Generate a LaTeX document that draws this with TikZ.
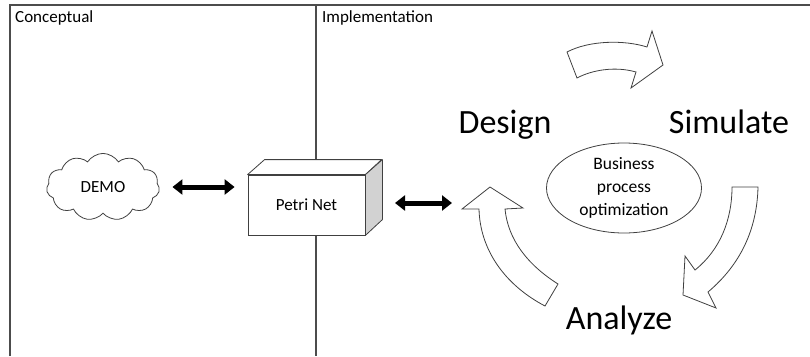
\documentclass[tikz,border=0pt]{standalone}
\usepackage{fontspec}
\setmainfont{Carlito}
\usetikzlibrary{shapes.geometric, shapes.symbols, arrows.meta, positioning}

\begin{document}
\begin{tikzpicture}[x=1pt, y=-1pt]
% Define styles
\tikzstyle{frame} = [draw=gray!60!black, line width=1.2pt]
\tikzstyle{label} = [anchor=base west, inner sep=0pt, font=\fontsize{17}{20}\selectfont]
\tikzstyle{phase} = [anchor=base, inner sep=0pt, font=\fontsize{34}{40}\selectfont]
\tikzstyle{box} = [rectangle, draw=black!75, fill=white, line width=0.8pt, minimum width=117pt, minimum height=60pt, font=\fontsize{17}{20}\selectfont]
\tikzstyle{boxface} = [draw=black!75, fill=white, line width=0.8pt, line join=round]
\tikzstyle{link} = [black, line width=5pt, {Triangle[length=10pt,width=15pt]}-{Triangle[length=10pt,width=15pt]}, shorten <=13pt, shorten >=13pt]
\tikzstyle{bentarrow} = [draw=black!75, fill=white, line width=0.8pt, line join=miter]
\useasboundingbox (0,0) rectangle (810,356);

% Frame with the two columns
\draw[frame] (10,356) -- (10,5) -- (810,5);
\draw[frame] (316,5) -- (316,356);
\node[label] (Conceptual) at (15,22) {Conceptual};
\node[label] (Implementation) at (322,22) {Implementation};

% Conceptual side
\node[cloud, draw=black!75, line width=0.8pt, cloud puffs=11, cloud puff arc=115, aspect=1.4, minimum width=113pt, minimum height=55pt, inner sep=6pt, font=\fontsize{17}{20}\selectfont] (Demo) at (103,187) {DEMO};

% Petri net box (front, top and side faces)
\node[box] (PetriNet) at (306.5,205) {Petri Net};
\draw[boxface] (PetriNet.north west) -- ++(17,-15) -- ++(117,0) -- (PetriNet.north east) -- cycle;
\draw[boxface, fill=gray!35] (PetriNet.north east) -- ++(17,-15) -- ++(0,60) -- (PetriNet.south east) -- cycle;
\coordinate (PetriSide) at (382,203);
\coordinate (LoopIn) at (465,203);

% Links
\draw[link] (Demo.east) -- (Demo.east -| PetriNet.west);
\draw[link] (PetriSide) -- (LoopIn);

% Optimization cycle
\node[ellipse, draw=black!75, line width=0.8pt, minimum width=155pt, minimum height=90pt, inner sep=0pt, align=center, font=\fontsize{17.5}{23}\selectfont] (Optimization) at (624,188) {Business\\process\\optimization};
\node[phase] (Design) at (505,133) {Design};
\node[phase] (Simulate) at (729,133) {Simulate};
\node[phase] (Analyze) at (619,329) {Analyze};

% Design -> Simulate
\draw[bentarrow] (567,52) .. controls (590,40) and (625,40) .. (647,47) -- (652,31) -- (663,65) -- (631,88) -- (636,72) .. controls (615,66) and (592,70) .. (577,78) -- cycle;
% Simulate -> Analyze
\draw[bentarrow] (732,187) -- (758,187) .. controls (757,230) and (740,265) .. (708,292) -- (716,308) -- (683,295) -- (685,256) -- (695,270) .. controls (720,250) and (732,220) .. (732,187) -- cycle;
% Analyze -> Design
\draw[bentarrow] (490,187) -- (523,208) -- (505,209) .. controls (508,240) and (528,265) .. (558,284) -- (545,306) .. controls (505,285) and (480,250) .. (479,209) -- (462,209) -- cycle;
\end{tikzpicture}
\end{document}
